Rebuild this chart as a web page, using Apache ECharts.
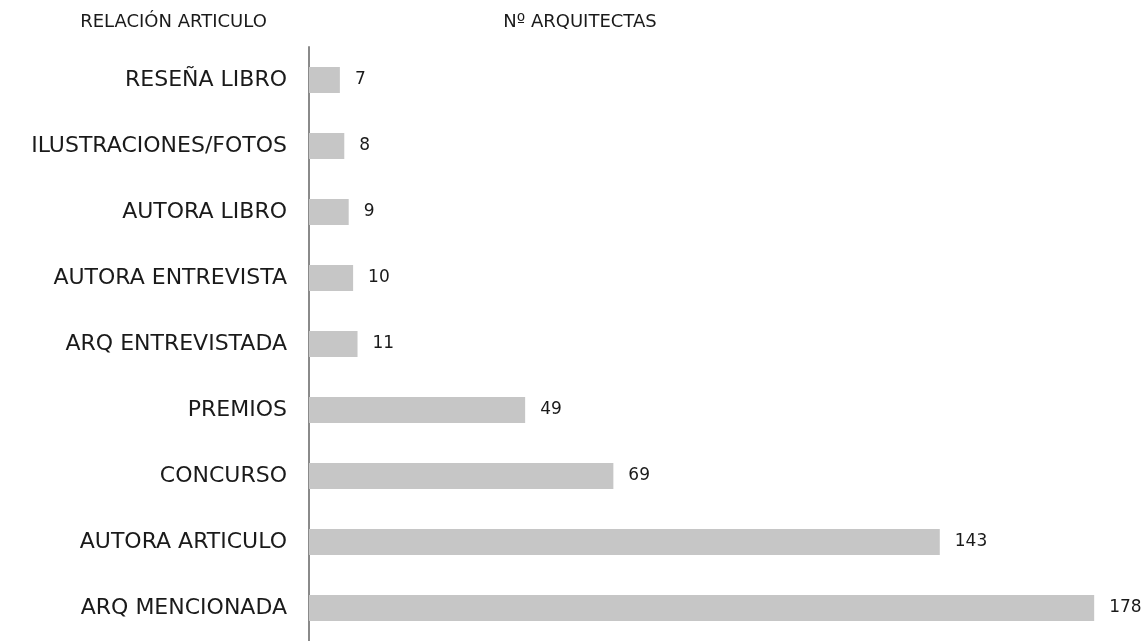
<!DOCTYPE html>
<html>
<head>
<meta charset="utf-8">
<script src="https://cdn.jsdelivr.net/npm/echarts@6/dist/echarts.min.js"></script>
<style>
html,body{margin:0;padding:0;background:#fff;}
#main{width:1145px;height:641px;}
</style>
</head>
<body>
<div id="main"></div>
<script>
var categories = ["RESEÑA LIBRO","ILUSTRACIONES/FOTOS","AUTORA LIBRO","AUTORA ENTREVISTA","ARQ ENTREVISTADA","PREMIOS","CONCURSO","AUTORA ARTICULO","ARQ MENCIONADA"];
var values = [7,8,9,10,11,49,69,143,178];
var headerLeft = "RELACIÓN ARTICULO";
var headerRight = "Nº ARQUITECTAS";

var FONT = "'DejaVu Sans', sans-serif";
var chart = echarts.init(document.getElementById('main'), null, {renderer:'canvas'});
chart.setOption({
  animation:false,
  backgroundColor:'#fff',
  grid:{left:309, right:42, top:47, bottom:-2, containLabel:false},
  xAxis:{type:'value', min:0, max:180, show:false},
  yAxis:{
    type:'category', data:categories, inverse:true,
    axisLine:{show:true, lineStyle:{color:'#8a8a8a', width:2}},
    axisTick:{show:false},
    axisLabel:{color:'#1a1a1a', fontSize:22, fontFamily:FONT, margin:22}
  },
  series:[{
    type:'bar', data:values, barWidth:26,
    itemStyle:{color:'#c6c6c6'},
    label:{show:true, position:'right', distance:15, color:'#1a1a1a', fontSize:17, fontFamily:FONT}
  }],
  graphic:[
    {type:'text', x:173.5, y:22, style:{text:headerLeft, fill:'#1a1a1a', font:'18px '+FONT, textAlign:'center', textVerticalAlign:'middle'}},
    {type:'text', x:580, y:22, style:{text:headerRight, fill:'#1a1a1a', font:'18px '+FONT, textAlign:'center', textVerticalAlign:'middle'}}
  ]
});
</script>
</body>
</html>
